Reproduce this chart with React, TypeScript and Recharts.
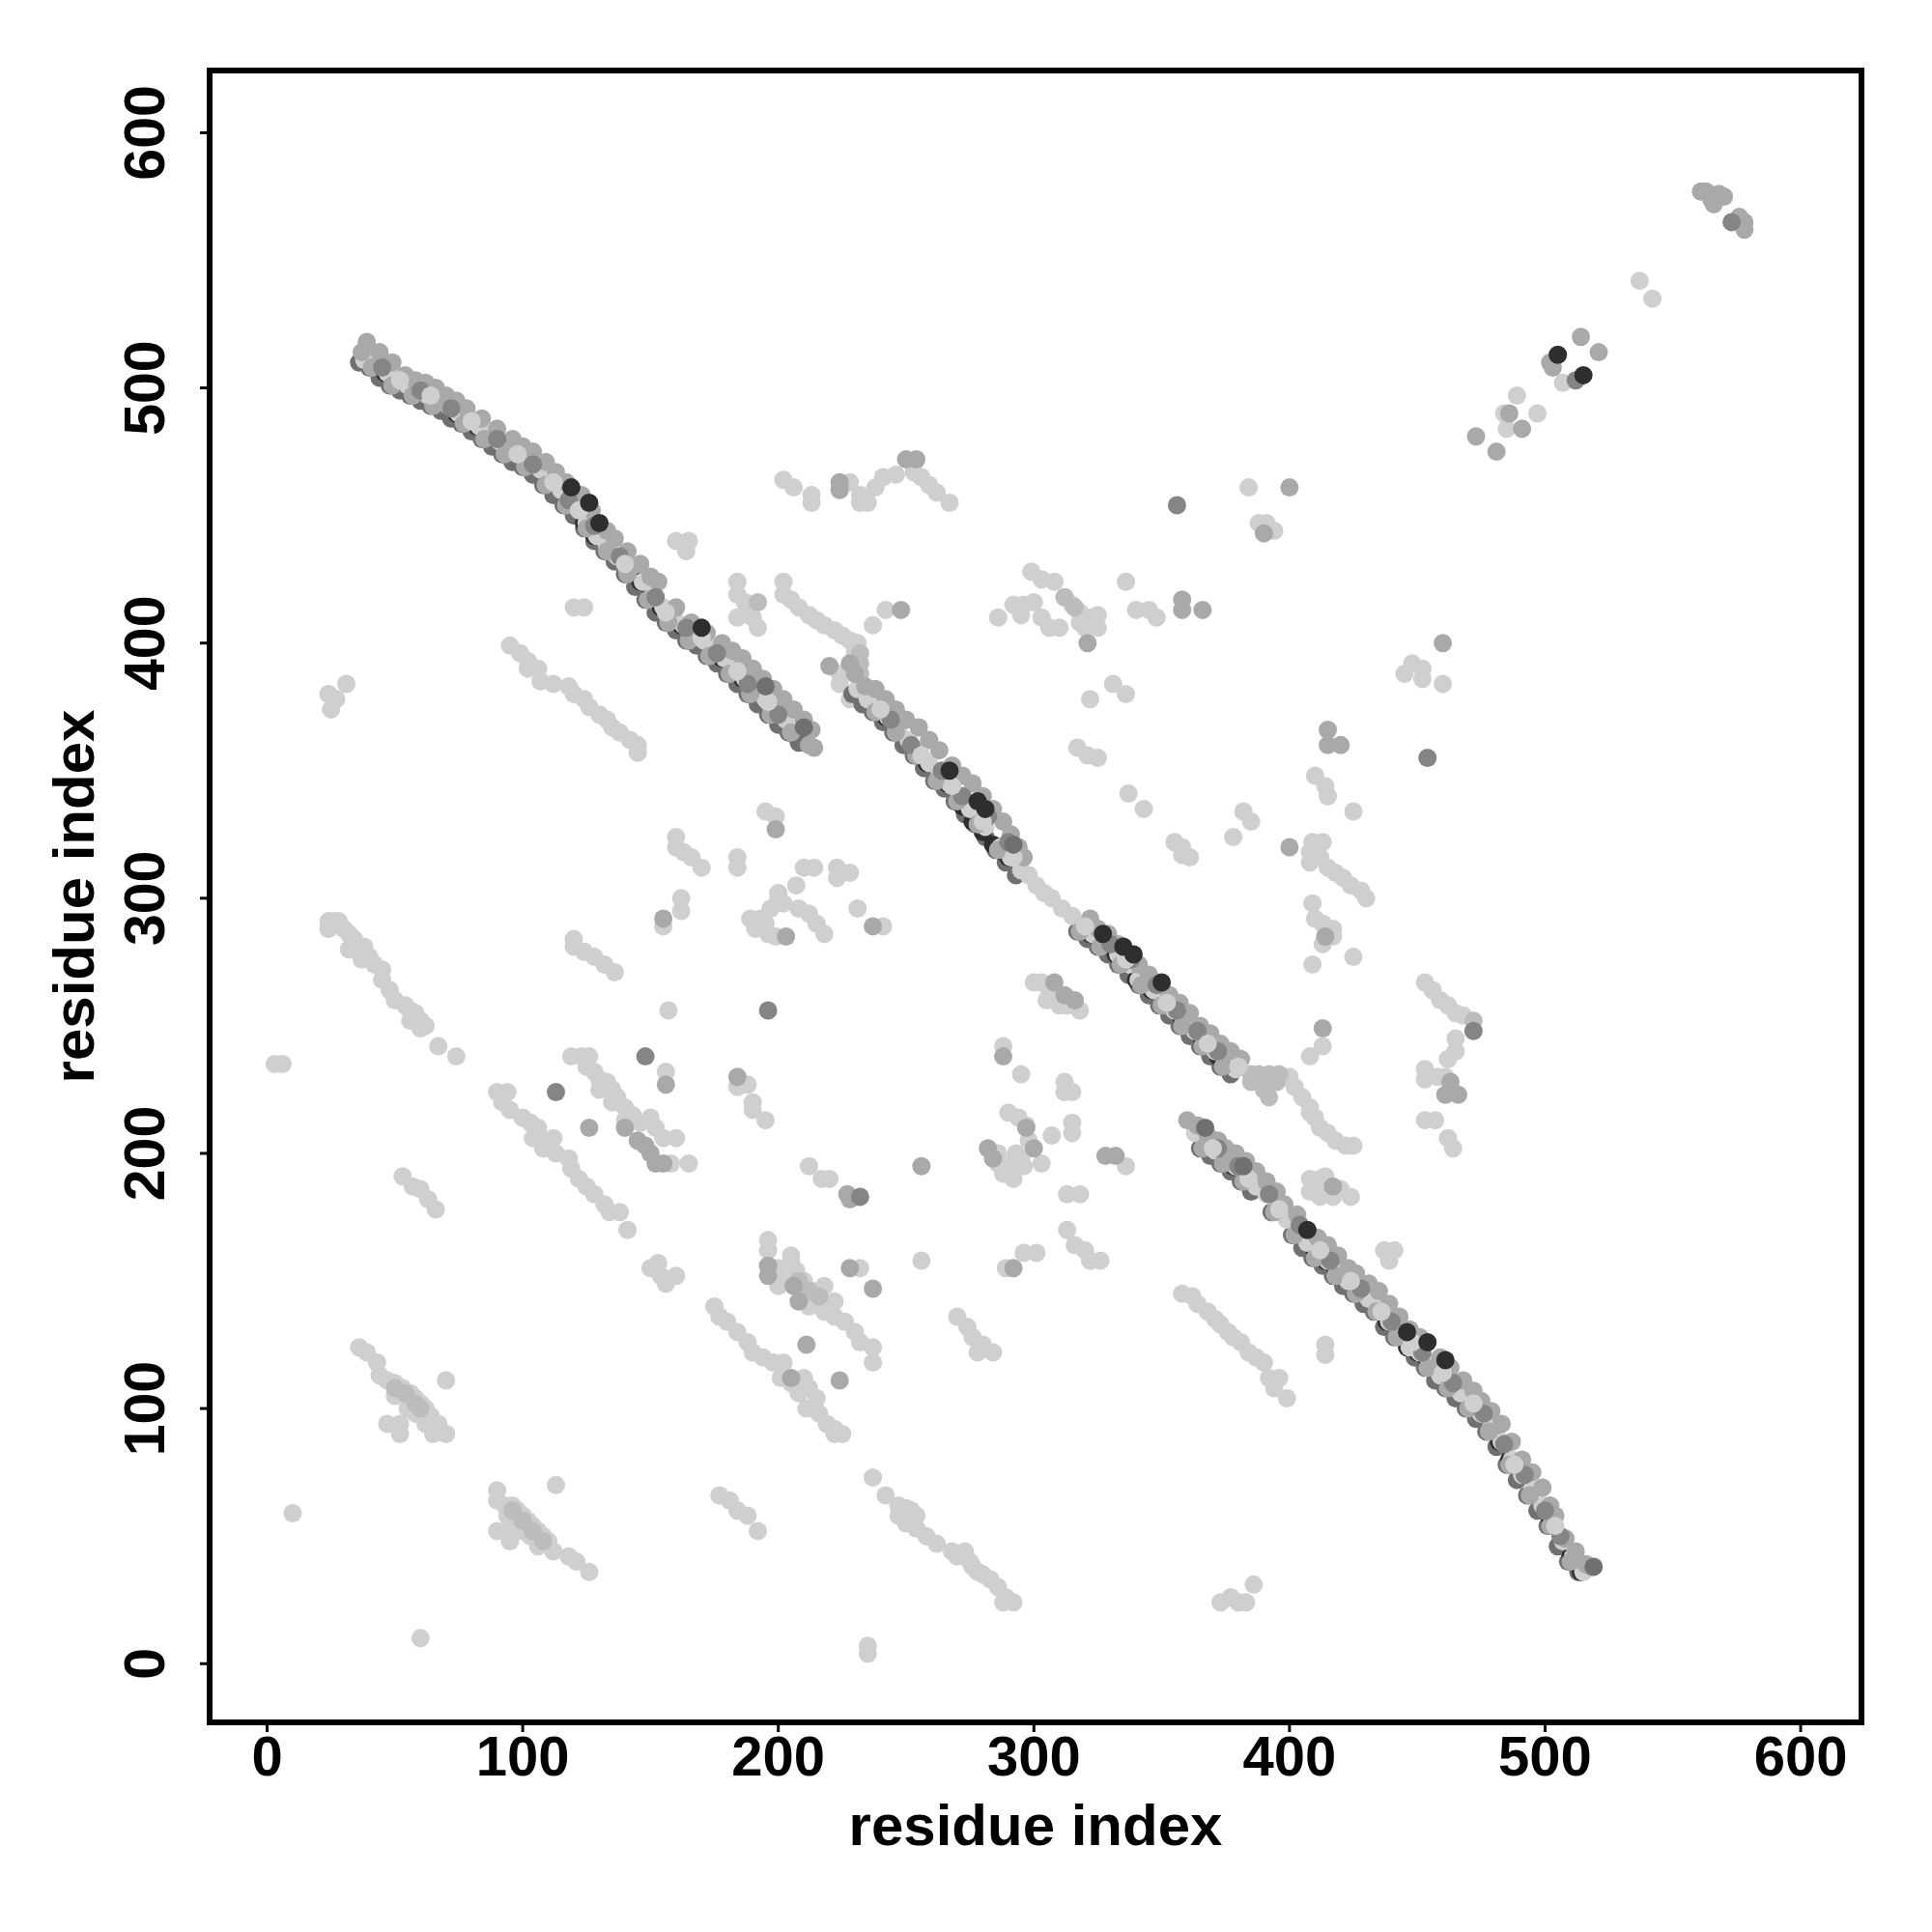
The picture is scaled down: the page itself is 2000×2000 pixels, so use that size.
import React from 'react';
import { ScatterChart, Scatter, XAxis, YAxis, ReferenceArea } from 'recharts';

type Pair = [number, number];

const tickValues = [0, 100, 200, 300, 400, 500, 600];

// off-diagonal contacts, palest score group
const faintPoints: Pair[] = [
  [3,235],[6,235],[10,59],[60,10],[24,380],[25,374],[27,378],[31,384],
  [24,291],[24,288],[26,291],[28,291],[30,288],[32,286],[34,284],[32,280],[35,281],[38,281],[37,276],[40,277],[42,274],[45,272],[45,268],[48,264],[50,260],[54,258],[56,256],[58,255],[60,252],[62,250],[56,252],[60,249],[67,242],[74,238],
  [53,191],[57,187],[60,186],[63,182],[66,178],
  [36,124],[39,122],[43,118],[44,113],[47,111],[50,110],[53,108],[56,106],[58,104],[60,102],[62,100],[64,97],[67,94],[70,90],[70,111],[47,94],[52,94],[52,90],[65,90],[50,105],[55,100],[58,98],[62,94],
  [90,68],[90,64],[93,62],[96,62],[98,60],[100,58],[102,56],[104,54],[106,52],[108,50],[110,48],[112,44],[113,70],[90,52],[94,52],[95,48],[118,42],[121,40],[126,36],[94,58],[97,55],[100,52],[103,50],[106,46],
  [177,66],[181,64],[184,60],[188,58],[192,52],
  [237,73],[242,66],[247,62],[250,61],[252,60],[254,58],[247,58],[250,55],[254,53],[258,50],[262,47],[268,44],[273,44],[275,40],[270,42],[276,38],[280,35],[283,33],[286,30],[289,26],[292,24],[288,24],[278,36],
  [235,7],[235,4],[373,24],[377,26],[380,24],[383,24],[386,31],
  [90,224],[94,224],[92,220],[95,217],[100,214],[103,212],[106,210],[104,206],[108,205],[112,206],[108,202],[113,200],
  [118,198],[119,194],[122,190],[125,187],[128,184],[132,180],[134,177],[138,177],[141,170],
  [150,155],[153,157],[154,152],[156,149],[160,152],
  [119,238],[123,238],[126,238],[125,234],[128,232],[130,229],[133,228],[135,225],[137,222],[140,218],[143,215],[146,212],[150,214],[152,210],[155,206],[160,206],[130,225],[135,220],[140,213],
  [156,232],[158,196],[165,196],[155,289],[162,295],[162,300],[157,256],
  [120,284],[120,281],[124,279],[128,277],[132,274],[136,271],
  [160,324],[160,320],[163,318],[166,316],[170,312],[184,316],[184,312],[195,334],[199,332],
  [189,292],[193,292],[191,288],[195,290],[196,286],[199,285],[197,296],[200,302],[202,298],[207,305],[210,312],[214,312],[208,296],[212,294],[215,290],[218,286],[200,300],
  [223,312],[223,308],[228,310],[231,296],[241,289],
  [184,226],[188,227],[190,220],[190,217],[195,213],
  [175,140],[177,136],[180,134],[184,130],[188,126],[190,122],[194,120],[198,118],[202,118],
  [196,166],[196,162],[200,155],[203,150],[205,158],[207,154],[210,150],[214,146],[218,148],[222,142],[212,140],[218,138],[222,136],[226,134],[230,130],[232,126],[237,124],[237,118],[205,160],[200,148],
  [201,112],[205,110],[208,106],[212,108],[215,104],[211,100],[216,98],[219,94],[222,90],[225,90],[222,92],[210,112],
  [212,195],[217,190],[220,190],[232,155],[256,158],
  [270,136],[274,132],[276,128],[280,125],[284,122],[278,122],[289,155],[296,161],[301,161],
  [286,200],[286,196],[288,192],[292,190],[290,216],[294,214],[297,211],[293,200],[295,198],[298,205],[296,195],[292,196],[290,194],[303,196],[307,207],[312,228],[312,224],[315,224],[315,212],[315,208],[288,242],[295,231],[313,184],[318,184],[313,170],[316,164],[320,162],[322,158],[326,158],[336,195],
  [300,267],[303,267],[306,264],[313,258],[318,256],[305,260],[310,258],
  [358,145],[362,144],[364,141],[368,138],[371,135],[373,133],[376,130],[378,128],[381,126],[384,122],[387,120],[390,118],[392,112],[396,112],[399,104],[394,108],
  [414,125],[414,121],[408,190],[412,190],[414,191],[408,185],[412,183],[420,186],[424,183],[410,187],[417,183],
  [400,230],[402,226],[405,222],[408,218],[410,214],[412,210],[415,208],[418,205],[422,203],[425,203],[408,216],
  [437,162],[441,162],[439,158],[408,238],[413,242],[409,274],[425,277],[413,282],[417,288],[409,298],[410,292],[413,290],[417,285],
  [408,318],[408,314],[413,322],[412,316],[415,312],[418,310],[421,308],[424,305],[428,303],[430,300],[409,322],
  [410,348],[414,344],[415,340],[425,334],[382,334],[385,330],[378,324],[355,322],[358,320],[358,317],[361,316],[337,341],[343,335],[317,359],[321,356],[325,355],[322,378],[331,384],[336,380],
  [445,388],[448,392],[452,386],[452,390],[460,384],
  [299,428],[303,425],[308,424],[312,418],[315,415],[318,412],[322,410],[325,406],[325,411],[320,406],[318,408],
  [292,415],[296,415],[300,416],[295,411],[303,410],[306,406],[310,406],[286,410],[336,424],[340,413],[345,413],[348,410],
  [384,461],[388,447],[391,447],[394,444],
  [202,464],[206,461],[213,458],[213,455],[228,463],[232,458],[232,455],[235,455],[238,461],[241,465],[246,466],[253,467],[256,465],[259,462],[262,459],[267,455],
  [160,440],[165,440],[164,436],[120,414],[124,414],
  [95,399],[99,396],[102,390],[106,390],[107,385],[112,384],[102,393],
  [118,383],[120,380],[124,378],[126,375],[130,372],[133,370],[135,367],[138,365],[142,362],[145,360],[145,357],
  [184,424],[184,419],[187,416],[188,412],[184,410],[190,410],[192,406],
  [202,424],[202,419],[205,417],[208,414],[212,411],[215,409],[218,407],[222,405],[225,403],[228,401],[231,400],[230,396],
  [237,407],[242,413],[484,490],[489,497],[497,490],[485,484],[507,502],[537,542],[542,535],
  [464,202],[462,206],[453,213],[457,213],[453,233],[453,229],[458,230],[461,230],[462,237],[465,240],[465,245],
  [453,267],[456,264],[459,260],[462,258],[465,255],[468,254],
  [224,388],[228,378],[233,376],[224,384],
];

// slightly stronger contacts, where the pale runs look denser
const duskPoints: Pair[] = [
  [50,108],[54,106],[58,102],[60,100],[96,60],[100,56],[104,52],[108,48],
  [385,231],[388,231],[392,231],[396,231],[385,228],[390,225],[392,222],[395,228],
  [232,396],[232,392],[232,388],[232,384],[192,416],[472,252],
  [208,150],[212,146],[216,144],[312,418],[316,414],
];

// off-diagonal contacts, middle score group
const softPoints: Pair[] = [
  [140,210],[145,205],[148,203],[150,200],[155,196],[152,196],[126,210],[156,227],[155,292],[199,327],[203,285],[237,289],[184,230],
  [196,156],[196,152],[206,148],[208,142],[205,112],[211,125],[224,111],[227,184],[228,182],[228,155],[237,147],[256,195],[292,155],
  [282,202],[284,198],[297,210],[300,202],[288,238],[328,199],[332,199],[308,267],[312,262],[316,260],
  [417,187],[413,249],[414,285],[400,320],[415,366],[415,360],[420,360],[460,400],[321,400],[358,417],[358,413],[366,413],[390,443],[400,461],
  [224,463],[224,460],[250,472],[254,472],[248,413],[473,481],[481,475],[486,490],[491,484],[502,510],[503,508],[514,520],[521,514],
  [561,577],[563,577],[565,574],[568,576],[566,572],[570,575],[576,567],[578,565],[578,562],
  [463,228],[466,223],[461,223],[220,391],[228,392],
];

// isolated dark contacts
const dimPoints: Pair[] = [
  [113,224],[148,238],[196,256],[232,183],[356,454],[454,355],[472,248],[512,503],[573,565],
];

// first helix band, from darkest to palest layer
const bandOneDark: Pair[] = [
  [36,510],[40,508],[44,504],[48,501],[52,499],[56,497],[60,495],[64,493],[68,491],[72,488],[76,486],[80,483],[84,480],[88,477],[92,474],[96,471],[100,469],[104,466],[108,462],[112,458],[116,454],[120,450],[124,445],[128,440],[132,436],[136,432],[140,427],[144,422],[148,417],[152,412],[156,408],[160,405],[164,401],[168,399],[172,395],[176,392],[180,388],[184,384],[188,380],[192,376],[196,372],[200,368],[204,365],[208,361],
];
const bandOneBlack: Pair[] = [
  [42,510],[46,506],[58,499],[74,490],[82,485],[110,464],[124,447],[128,442],[146,424],[150,419],[154,414],[162,407],[178,394],[186,386],[198,374],
];
const bandOneLight: Pair[] = [
  [38,511],[43,510],[47,506],[51,503],[55,501],[59,499],[63,497],[67,495],[71,493],[75,490],[79,488],[83,485],[87,482],[91,479],[95,476],[99,474],[103,471],[107,468],[111,464],[115,460],[119,456],[125,447],[129,442],[133,438],[137,434],[141,429],[147,424],[151,419],[155,414],[159,410],[163,407],[167,404],[171,401],[175,397],[179,394],[183,390],[187,386],[191,382],[195,378],[199,374],[203,370],[207,367],
];
const bandOneMid: Pair[] = [
  [37,514],[39,518],[44,514],[49,510],[54,505],[58,503],[62,502],[66,500],[70,497],[74,495],[78,492],[84,488],[90,484],[96,480],[100,477],[104,475],[109,471],[113,467],[117,463],[123,458],[127,452],[133,444],[136,441],[141,436],[146,431],[150,426],[153,424],[160,414],[166,408],[172,404],[178,400],[182,397],[186,394],[190,390],[194,386],[198,382],[202,378],[206,374],[210,370],[213,366],[212,360],[214,359],
];
const bandOneEdge: Pair[] = [
  [41,508],[49,501],[57,497],[65,493],[77,486],[85,480],[93,474],[101,469],[109,462],[117,454],[125,445],[133,436],[141,427],[149,417],[157,408],[165,401],[173,395],[181,388],[189,380],[197,372],[205,365],
];
const bandOneCore: Pair[] = [
  [45,508],[60,499],[72,492],[90,480],[104,470],[118,456],[128,446],[138,434],[152,418],[164,406],[176,396],[188,384],[200,372],
];
const bandOneFleck: Pair[] = [
  [52,503],[64,497],[80,487],[98,474],[112,463],[122,452],[140,431],[156,412],[170,402],[184,389],[196,377],
];

// second helix band
const bandTwoDark: Pair[] = [
  [229,380],[233,376],[237,373],[241,369],[245,365],[249,360],[253,356],[257,351],[261,346],[265,343],[269,338],[273,333],[277,329],[281,324],[285,319],[289,314],[293,309],[317,287],[321,284],[325,281],[329,278],[333,274],[337,270],[341,266],[345,262],[349,258],[353,254],[357,250],[361,246],[365,242],[369,238],[373,234],[377,231],
];
const bandTwoBlack: Pair[] = [
  [242,371],[258,353],[266,345],[272,336],[276,330],[280,326],[284,321],[288,318],[290,316],[322,286],[326,283],[332,278],[336,274],[340,268],[346,264],[358,252],[366,244],[372,238],
];
const bandTwoLight: Pair[] = [
  [231,382],[235,378],[239,375],[243,371],[247,367],[251,362],[255,358],[259,353],[263,348],[267,345],[271,340],[275,335],[281,328],[287,320],[291,316],[295,311],[298,309],[301,305],[304,302],[307,300],[311,296],[315,293],[319,289],[323,286],[327,283],[333,278],[337,274],[341,268],[347,264],[351,260],[355,256],[359,252],[363,248],[367,244],[371,240],[375,236],[379,233],
];
const bandTwoMid: Pair[] = [
  [230,388],[234,383],[238,382],[242,378],[246,374],[250,370],[255,367],[259,362],[263,358],[268,352],[272,348],[276,345],[280,340],[284,335],[288,330],[291,325],[294,320],[296,316],[322,292],[325,288],[329,286],[333,282],[337,278],[341,274],[345,270],[349,266],[353,262],[357,259],[361,255],[365,250],[369,247],[373,243],[377,240],[381,237],
];
const bandTwoEdge: Pair[] = [
  [238,373],[246,365],[254,356],[262,346],[270,338],[278,329],[286,319],[318,287],[326,281],[334,274],[342,266],[350,258],[358,250],[366,242],[374,234],
];
const bandTwoCore: Pair[] = [
  [244,370],[252,360],[264,350],[272,340],[282,332],[290,322],[330,282],[338,276],[348,266],[356,256],[364,248],[372,240],
];
const bandTwoFleck: Pair[] = [
  [240,374],[256,356],[268,344],[280,330],[292,316],[320,289],[336,276],[352,259],[368,243],[380,234],
];

// third helix band
const bandThreeDark: Pair[] = [
  [365,202],[369,199],[373,196],[377,193],[381,189],[385,185],[393,177],[401,168],[405,163],[409,159],[413,156],[417,152],[421,148],[425,145],[429,141],[433,138],[437,132],[441,128],[449,120],[453,116],[457,111],[461,108],[465,104],[469,100],[473,96],[477,91],[481,85],[485,78],[489,72],[493,66],[497,60],[501,54],[505,46],[509,40],[513,36],
];
const bandThreeBlack: Pair[] = [
  [374,198],[378,195],[410,161],[414,158],[418,154],[438,134],[446,124],[450,122],[454,118],[482,87],[486,80],[502,56],[510,42],[514,36],
];
const bandThreeLight: Pair[] = [
  [363,208],[367,204],[371,201],[375,198],[379,195],[383,191],[387,187],[391,184],[395,179],[399,174],[403,170],[407,165],[411,161],[415,158],[419,154],[423,150],[427,147],[431,143],[435,140],[439,134],[443,130],[447,124],[451,122],[455,118],[459,113],[463,110],[467,106],[471,102],[475,98],[479,93],[483,87],[487,80],[491,74],[495,68],[499,62],[503,56],[507,48],[511,42],[515,36],
];
const bandThreeMid: Pair[] = [
  [360,213],[364,211],[368,207],[372,205],[375,202],[379,200],[383,197],[387,193],[391,189],[395,185],[398,180],[403,176],[411,167],[415,164],[419,160],[423,155],[426,153],[431,149],[435,146],[439,141],[443,136],[447,131],[451,128],[459,120],[463,116],[468,111],[472,107],[475,103],[479,99],[483,94],[487,87],[491,80],[495,75],[499,69],[502,62],[504,58],[508,49],[512,44],[516,39],[518,38],
];
const bandThreeEdge: Pair[] = [
  [366,202],[374,196],[382,189],[394,177],[402,168],[410,159],[418,152],[426,145],[434,138],[442,128],[454,116],[462,108],[470,100],[478,91],[486,78],[494,66],[502,54],[510,40],
];
const bandThreeCore: Pair[] = [
  [372,202],[380,195],[392,184],[404,172],[416,158],[428,147],[440,134],[452,122],[464,110],[476,98],[484,86],[492,74],[500,60],[506,50],
];
const bandThreeFleck: Pair[] = [
  [370,202],[384,190],[396,178],[412,162],[424,150],[436,138],[448,126],[460,114],[472,102],[488,78],[504,54],
];

// strongest contacts sit on top of everything else
const topDark: Pair[] = [
  [195,383],[210,367],[292,321],[367,210],[382,195],[519,38],
];
const topBlack: Pair[] = [
  [119,461],[126,455],[130,447],[170,406],[267,350],[278,338],[281,335],[327,286],[335,281],[339,278],[350,267],[407,170],[446,130],[454,126],[461,119],[505,513],[515,505],
];

const GREY = { faint: '#cfcfcf', dusk: '#bcbcbc', soft: '#a9a9a9', dim: '#858585', dark: '#707070', black: '#2e2e2e' };

const layers: { points: Pair[]; fill: string }[] = [
  { points: faintPoints, fill: GREY.faint },
  { points: duskPoints, fill: GREY.dusk },
  { points: softPoints, fill: GREY.soft },
  { points: dimPoints, fill: GREY.dim },
  { points: bandOneDark, fill: GREY.dark },
  { points: bandTwoDark, fill: GREY.dark },
  { points: bandThreeDark, fill: GREY.dark },
  { points: bandOneBlack, fill: GREY.black },
  { points: bandTwoBlack, fill: GREY.black },
  { points: bandThreeBlack, fill: GREY.black },
  { points: bandOneLight, fill: GREY.faint },
  { points: bandTwoLight, fill: GREY.faint },
  { points: bandThreeLight, fill: GREY.faint },
  { points: bandOneMid, fill: GREY.soft },
  { points: bandTwoMid, fill: GREY.soft },
  { points: bandThreeMid, fill: GREY.soft },
  { points: bandOneEdge, fill: GREY.soft },
  { points: bandTwoEdge, fill: GREY.soft },
  { points: bandThreeEdge, fill: GREY.soft },
  { points: bandOneCore, fill: GREY.dim },
  { points: bandTwoCore, fill: GREY.dim },
  { points: bandThreeCore, fill: GREY.dim },
  { points: bandOneFleck, fill: GREY.faint },
  { points: bandTwoFleck, fill: GREY.faint },
  { points: bandThreeFleck, fill: GREY.faint },
  { points: topDark, fill: GREY.dark },
  { points: topBlack, fill: GREY.black },
];

const FONT = '"Liberation Sans", Arial, sans-serif';
const X_DOMAIN: [number, number] = [-22.5, 623.8];
const Y_DOMAIN: [number, number] = [-23, 624.4];

// base R style: y tick labels run along the axis
const RotatedTick = ({ x, y, payload }: any) => (
  <text
    x={x - 35}
    y={y}
    transform={`rotate(-90 ${x - 35} ${y})`}
    textAnchor="middle"
    fontFamily={FONT}
    fontWeight="bold"
    fontSize={59}
    fill="#000"
  >
    {payload.value}
  </text>
);

const Dot = ({ cx, cy, fill }: any) => <circle cx={cx} cy={cy} r={9.5} fill={fill} />;

const App = () => {
  return (
    <div style={{ position: 'absolute', left: 0, top: 0, background: '#fff' }}>
      <ScatterChart
        width={2000}
        height={2000}
        margin={{ top: 73, right: 73, bottom: 0, left: 0 }}
      >
        <XAxis
          type="number"
          dataKey="x"
          domain={X_DOMAIN}
          allowDataOverflow
          ticks={tickValues}
          interval={0}
          height={217}
          axisLine={false}
          tickLine={{ stroke: '#000', strokeWidth: 3 }}
          tickSize={10}
          tickMargin={4}
          tick={{ fontFamily: FONT, fontWeight: 'bold', fontSize: 58, fill: '#000' }}
          label={{
            value: 'residue index',
            position: 'insideBottom',
            offset: 90,
            style: { fontFamily: FONT, fontWeight: 'bold', fontSize: 60, fill: '#000' },
          }}
        />
        <YAxis
          type="number"
          dataKey="y"
          domain={Y_DOMAIN}
          allowDataOverflow
          ticks={tickValues}
          interval={0}
          width={217}
          axisLine={false}
          tickLine={{ stroke: '#000', strokeWidth: 3 }}
          tickSize={10}
          tick={<RotatedTick />}
          label={{
            value: 'residue index',
            angle: -90,
            position: 'insideLeft',
            offset: 76,
            style: { fontFamily: FONT, fontWeight: 'bold', fontSize: 60, fill: '#000', textAnchor: 'middle' },
          }}
        />
        {layers.map((layer, i) => (
          <Scatter
            key={i}
            data={layer.points.map(([x, y]) => ({ x, y }))}
            fill={layer.fill}
            shape={<Dot />}
            isAnimationActive={false}
          />
        ))}
        <ReferenceArea
          x1={X_DOMAIN[0]}
          x2={X_DOMAIN[1]}
          y1={Y_DOMAIN[0]}
          y2={Y_DOMAIN[1]}
          fill="none"
          stroke="#000"
          strokeWidth={6}
          ifOverflow="visible"
        />
      </ScatterChart>
    </div>
  );
};

export default App;
